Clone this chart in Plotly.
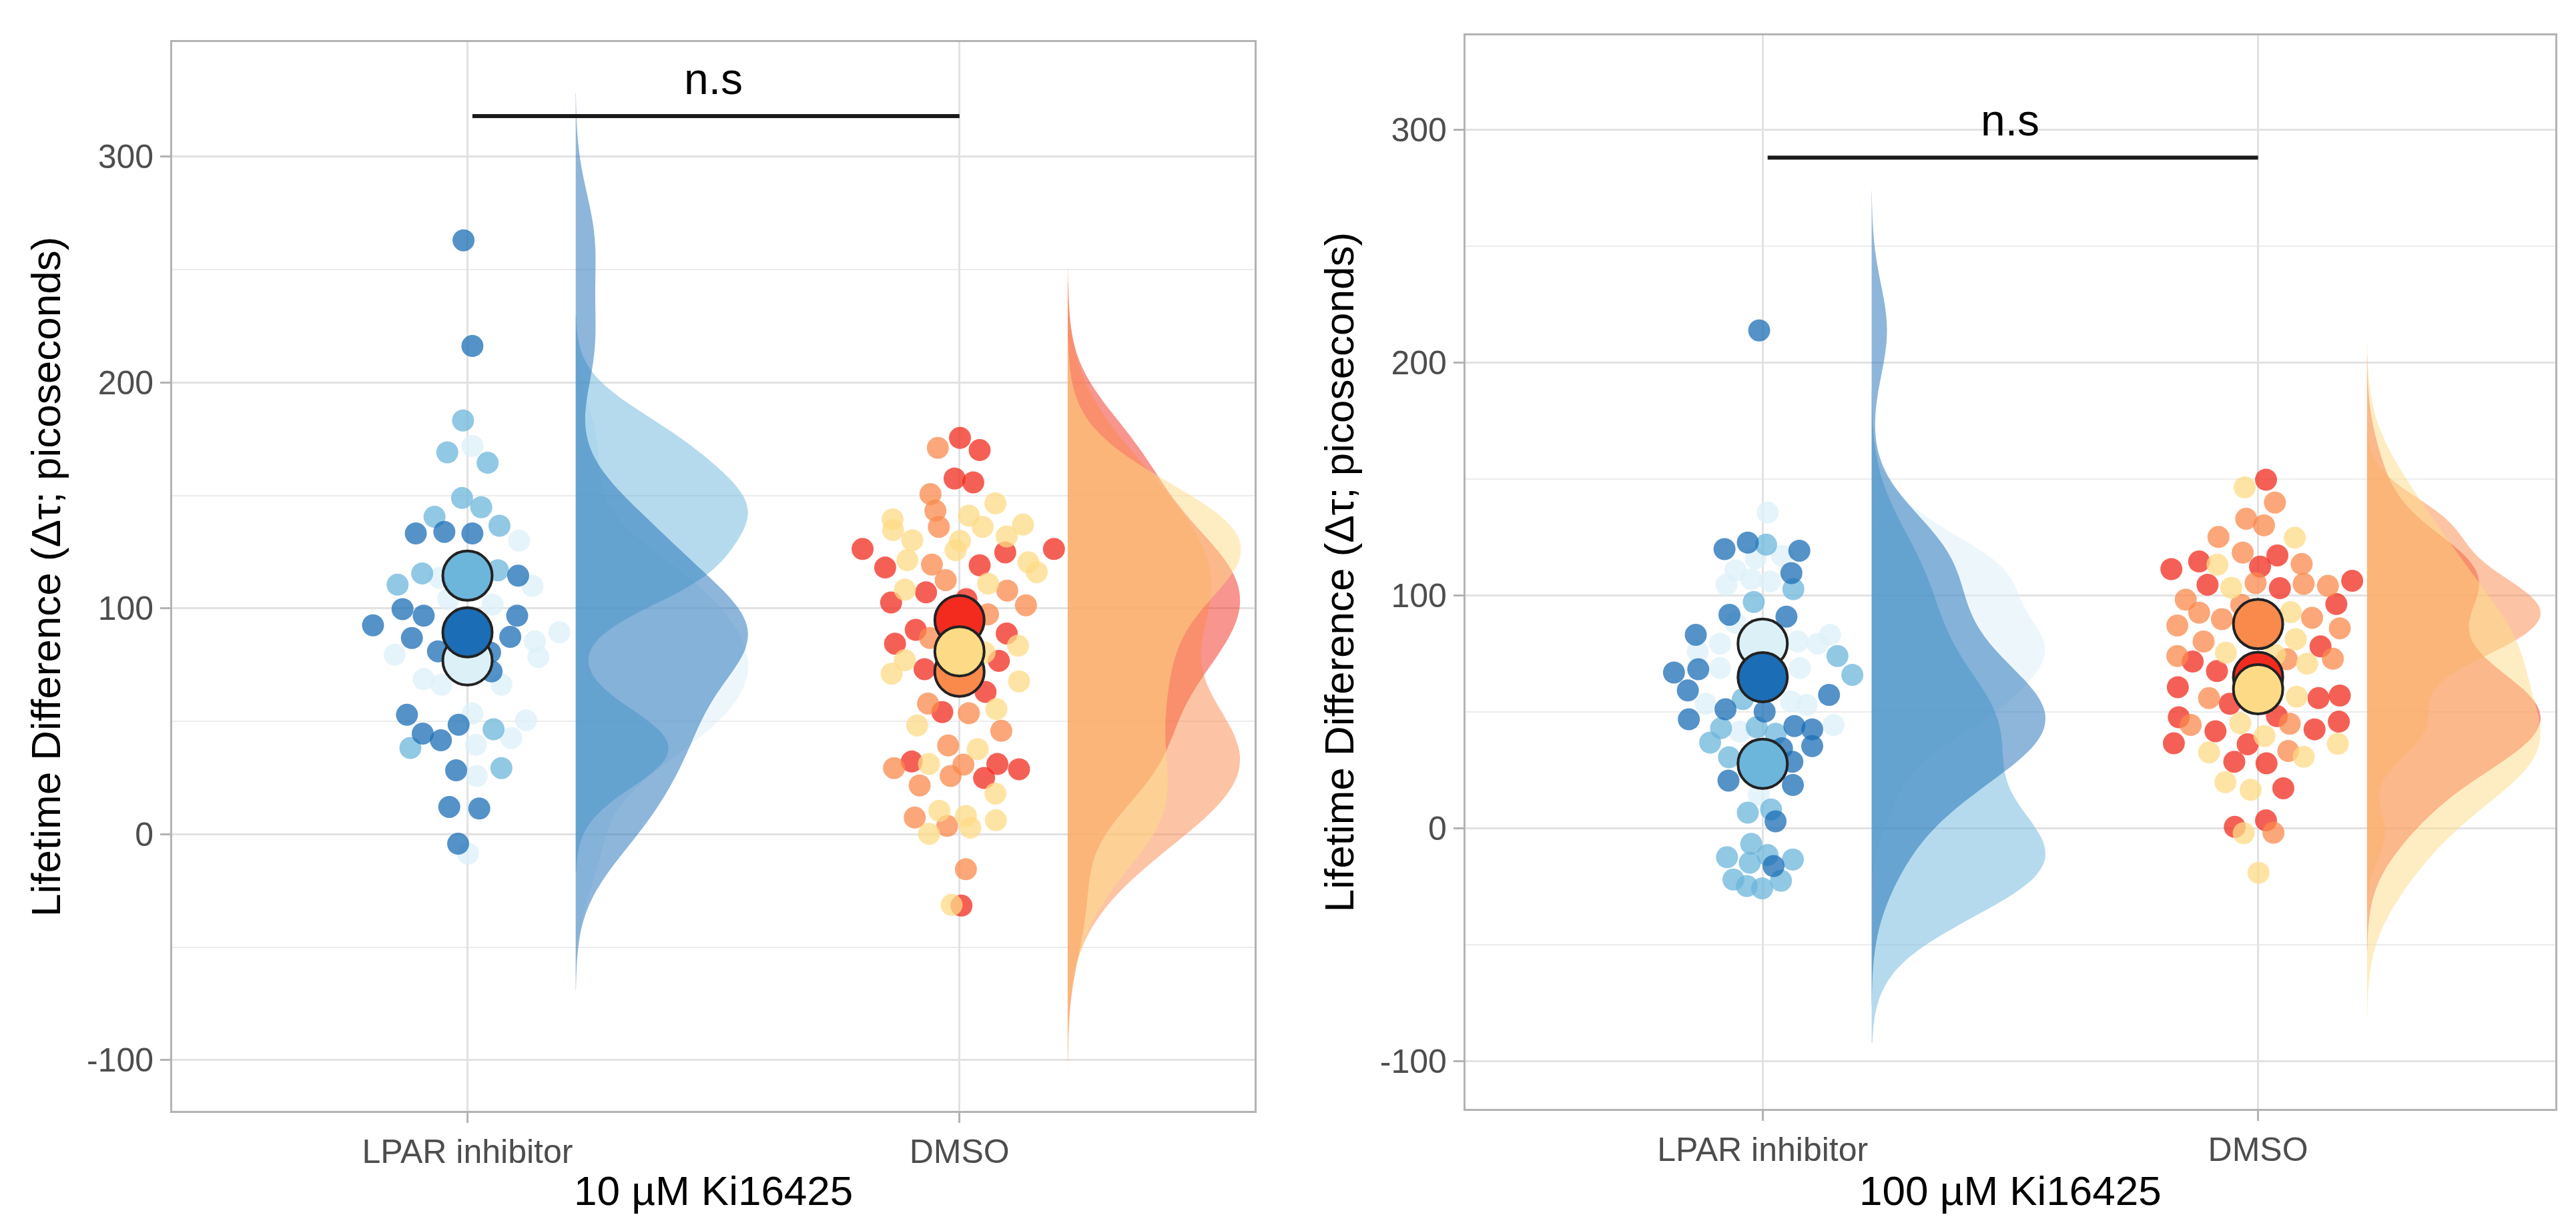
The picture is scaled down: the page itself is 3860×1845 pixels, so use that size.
import numpy as np
import plotly.graph_objects as go

# ---------------------------------------------------------------------------
# Values (per-cell lifetime differences, ps).
# Each condition has three biological replicates; "_dx" is the horizontal
# jitter of each cell point, as drawn in the original swarm.
# ---------------------------------------------------------------------------
conditions = ["LPAR inhibitor", "DMSO"]
panel_titles = ["10 µM Ki16425", "100 µM Ki16425"]
y_title = "Lifetime Difference (Δτ; picoseconds)"
y_ticks = [-100, 0, 100, 200, 300]
y_minor = [-50, 50, 150, 250]
sig_labels = ["n.s", "n.s"]
sig_heights = [318, 288]

# 10 µM, LPAR inhibitor
lpar10_r1_y = [263.0, 216.2, 133.2, 133.9, 133.2, 114.5, 99.7, 96.8, 92.5, 96.8, 86.9, 87.4,
               81.0, 80.5, 72.1, 52.9, 48.5, 44.6, 41.6, 28.3, 12.1, 11.4, -4.2]
lpar10_r1_dx = [-0.008, 0.010, -0.105, -0.047, 0.010, 0.103, -0.132, -0.089, -0.192, 0.101, -0.113, 0.087,
                -0.060, 0.046, 0.049, -0.123, -0.018, -0.091, -0.054, -0.023, -0.037, 0.024, -0.019]
lpar10_r2_y = [183.2, 169.1, 164.5, 148.9, 144.8, 140.6, 136.6, 115.5, 110.5, 116.9, 46.5, 38.2, 29.3]
lpar10_r2_dx = [-0.009, -0.041, 0.041, -0.011, 0.028, -0.067, 0.065, -0.092, -0.142, 0.062, 0.053, -0.116, 0.069]
lpar10_r3_y = [171.9, 130.0, 113.5, 110.0, 104.1, 101.7, 89.4, 85.4, 79.5, 78.5, 68.7, 66.2, 66.2,
               53.4, 50.5, 42.6, 39.6, 25.8, -8.6]
lpar10_r3_dx = [0.010, 0.105, -0.057, 0.132, -0.039, 0.051, 0.187, 0.137, -0.148, 0.144, -0.089, -0.053, 0.069,
                0.010, 0.119, 0.089, 0.017, 0.019, 0.001]
lpar10_means = [89.4, 114.5, 77.0]

# 10 µM, DMSO
dmso10_r1_y = [175.5, 170.1, 157.5, 155.8, 126.3, 126.3, 124.8, 118.1, 119.1, 107.1, 102.6, 104.1,
               90.5, 88.9, 84.4, 76.8, 73.1, 63.0, 54.1, 32.2, 31.1, 28.8, 24.9, -31.6]
dmso10_r1_dx = [0.001, 0.041, -0.010, 0.028, -0.197, 0.192, 0.093, -0.151, 0.041, -0.068, -0.139, 0.014,
                -0.089, 0.096, -0.131, 0.080, -0.071, 0.053, -0.035, -0.097, 0.077, 0.121, 0.050, 0.004]
dmso10_r2_y = [171.1, 150.6, 143.3, 136.1, 119.4, 112.5, 107.9, 101.4, 97.4, 86.9, 57.9, 53.6,
               45.8, 39.3, 29.3, 30.8, 25.8, 21.6, 7.4, 3.7, -15.5]
dmso10_r2_dx = [-0.044, -0.059, -0.049, -0.042, -0.056, -0.028, 0.097, 0.135, 0.058, -0.060, -0.064, 0.019,
                0.085, -0.023, -0.133, 0.008, -0.018, -0.081, -0.091, -0.025, 0.013]
dmso10_r3_y = [146.5, 141.1, 139.4, 136.1, 137.1, 134.7, 130.2, 129.9, 131.9, 125.8, 121.4, 120.4,
               116.1, 111.0, 108.3, 83.5, 77.1, 80.5, 71.1, 67.7, 55.4, 48.2, 37.7, 31.1,
               18.0, 10.4, 8.1, 6.2, 0.2, 2.9, -31.3]
dmso10_r3_dx = [0.073, 0.019, -0.136, 0.047, 0.129, -0.135, -0.096, 0.001, 0.096, -0.008, -0.106, 0.140,
                0.157, 0.058, -0.111, 0.119, -0.111, 0.051, -0.138, 0.121, 0.075, -0.086, 0.037, -0.062,
                0.073, -0.041, 0.013, 0.074, -0.062, 0.022, -0.016]
dmso10_means = [94.8, 72.0, 81.0]

# 100 µM, LPAR inhibitor
lpar100_r1_y = [213.8, 119.9, 122.7, 119.2, 109.6, 91.7, 90.9, 83.1, 68.3, 66.9, 59.2, 57.3,
                46.8, 51.1, 50.1, 43.9, 42.5, 35.3, 34.4, 28.6, 20.5, 18.6, 3.0, -16.2]
lpar100_r1_dx = [-0.007, -0.077, -0.030, 0.074, 0.058, -0.067, 0.048, -0.135, -0.130, -0.179, -0.151, 0.134,
                 -0.149, -0.075, 0.004, 0.064, 0.100, 0.100, 0.039, 0.060, -0.069, 0.061, 0.026, 0.022]
lpar100_r2_y = [121.8, 102.7, 97.2, 74.0, 65.9, 55.5, 43.0, 43.4, 40.6, 36.8, 30.5, 6.7, 8.1,
                -6.7, -12.4, -11.5, -13.4, -14.8, -22.0, -22.5, -24.8, -25.8]
lpar100_r2_dx = [0.007, 0.062, -0.018, 0.151, 0.181, -0.040, -0.084, -0.012, 0.026, -0.106, -0.068, -0.030, 0.017,
                 -0.023, -0.072, 0.010, 0.061, -0.026, -0.059, 0.037, -0.032, -0.001]
lpar100_r3_y = [135.6, 117.0, 116.0, 110.8, 107.0, 106.0, 104.6, 88.3, 79.3, 75.9, 80.2, 83.1, 79.3,
                68.8, 68.8, 53.5, 54.4, 53.0, 41.5, 44.4, 14.3]
lpar100_r3_dx = [0.010, 0.039, -0.014, -0.055, -0.023, 0.015, -0.073, -0.055, -0.086, -0.131, 0.071, 0.136, 0.111,
                 0.075, -0.086, -0.115, 0.057, 0.089, -0.046, 0.143, -0.008]
lpar100_means = [64.9, 27.7, 79.3]

# 100 µM, DMSO
dmso100_r1_y = [149.7, 117.2, 114.6, 112.4, 111.3, 104.6, 103.1, 106.3, 96.3, 78.1, 71.6, 67.5,
                60.6, 53.5, 55.9, 57.0, 47.7, 48.2, 41.7, 42.5, 45.8, 36.5, 36.1, 28.6, 27.9, 17.2, 0.6, 3.4]
dmso100_r1_dx = [0.016, 0.039, -0.119, 0.004, -0.175, -0.102, 0.044, 0.190, 0.158, 0.126, -0.132, -0.083,
                 -0.162, -0.057, 0.122, 0.165, -0.160, 0.038, -0.086, 0.114, 0.163, -0.170, -0.021, -0.048,
                 0.017, 0.051, -0.047, 0.016]
dmso100_r2_y = [139.9, 132.9, 130.1, 125.1, 118.4, 113.5, 105.3, 105.0, 104.1, 98.2, 96.0, 92.6,
                89.8, 90.4, 87.1, 85.9, 80.2, 74.0, 72.8, 72.6, 55.9, 44.4, 44.9, 33.2, -1.9]
dmso100_r2_dx = [0.034, -0.024, 0.012, -0.080, -0.031, 0.088, -0.005, 0.092, 0.141, -0.146, -0.034, -0.119,
                 -0.073, 0.109, -0.163, 0.165, -0.110, -0.163, 0.151, 0.058, -0.099, -0.136, 0.064, 0.061, 0.031]
dmso100_r3_y = [146.4, 124.8, 113.2, 103.3, 92.8, 81.2, 75.4, 70.7, 74.5, 56.5, 45.1, 39.6,
                32.6, 30.7, 36.3, 19.8, 16.5, -2.1, -19.1]
dmso100_r3_dx = [-0.027, 0.074, -0.082, -0.054, 0.066, 0.076, -0.065, 0.099, 0.034, 0.078, -0.036, 0.013,
                 -0.099, 0.092, 0.161, -0.066, -0.015, -0.029, 0.001]
dmso100_means = [65.0, 87.7, 59.7]

# replicate colours (rep1, rep2, rep3)
blues = ["#1b6db5", "#6cb5db", "#dcf0f8"]
oranges = ["#f22b1e", "#f98a4c", "#fddb86"]


def rgba(hex_color, alpha):
    h = hex_color.lstrip("#")
    r, g, b = (int(h[i:i + 2], 16) for i in (0, 2, 4))
    return f"rgba({r},{g},{b},{alpha})"


def nrd0(vals):
    # R's default bandwidth (bw.nrd0), as used by ggplot's violins
    v = np.asarray(vals, dtype=float)
    sd = v.std(ddof=1)
    iqr = np.subtract(*np.percentile(v, [75, 25]))
    return 0.9 * min(sd, iqr / 1.34) * len(v) ** -0.2


# (x position, colours, replicates, means, drawing order of replicates)
panels = [
    {
        "xaxis": "x", "yaxis": "y",
        "groups": [
            (1, blues, [(lpar10_r1_y, lpar10_r1_dx), (lpar10_r2_y, lpar10_r2_dx), (lpar10_r3_y, lpar10_r3_dx)],
             lpar10_means, [2, 1, 0]),
            (2, oranges, [(dmso10_r1_y, dmso10_r1_dx), (dmso10_r2_y, dmso10_r2_dx), (dmso10_r3_y, dmso10_r3_dx)],
             dmso10_means, [0, 1, 2]),
        ],
    },
    {
        "xaxis": "x2", "yaxis": "y2",
        "groups": [
            (1, blues, [(lpar100_r1_y, lpar100_r1_dx), (lpar100_r2_y, lpar100_r2_dx), (lpar100_r3_y, lpar100_r3_dx)],
             lpar100_means, [2, 1, 0]),
            (2, oranges, [(dmso100_r1_y, dmso100_r1_dx), (dmso100_r2_y, dmso100_r2_dx), (dmso100_r3_y, dmso100_r3_dx)],
             dmso100_means, [0, 1, 2]),
        ],
    },
]

fig = go.Figure()

# half violins, one per replicate, to the right of each swarm
for p in panels:
    for pos, cols, reps, _, order in p["groups"]:
        for i in order:
            vals = reps[i][0]
            bw = nrd0(vals)
            fig.add_trace(go.Violin(
                y=vals, x0=pos + 0.22, side="positive", width=0.7,
                scalemode="width", bandwidth=bw, spanmode="manual",
                span=[min(vals) - 3 * bw, max(vals) + 3 * bw],
                fillcolor=rgba(cols[i], 0.5), line=dict(width=0, color="rgba(0,0,0,0)"),
                points=False, hoverinfo="skip",
                xaxis=p["xaxis"], yaxis=p["yaxis"],
            ))

# individual cells
for p in panels:
    for pos, cols, reps, _, order in p["groups"]:
        for i in order:
            vals, dx = reps[i]
            fig.add_trace(go.Scatter(
                x=[pos + d for d in dx], y=vals, mode="markers",
                marker=dict(size=33, color=rgba(cols[i], 0.75), line=dict(width=0)),
                hoverinfo="y", xaxis=p["xaxis"], yaxis=p["yaxis"],
            ))

# replicate means
for p in panels:
    for pos, cols, _, means, order in p["groups"]:
        for i in order:
            fig.add_trace(go.Scatter(
                x=[pos], y=[means[i]], mode="markers",
                marker=dict(size=74, color=cols[i], line=dict(width=4, color="#222222")),
                hoverinfo="y", xaxis=p["xaxis"], yaxis=p["yaxis"],
            ))

# significance bars
for p, h in zip(panels, sig_heights):
    fig.add_trace(go.Scatter(
        x=[1.01, 2.0], y=[h, h], mode="lines",
        line=dict(color="#1a1a1a", width=6), hoverinfo="skip",
        xaxis=p["xaxis"], yaxis=p["yaxis"],
    ))

axis_x = dict(
    type="linear", range=[0.4, 2.6], tickmode="array", tickvals=[1, 2], ticktext=conditions,
    showgrid=True, gridcolor="#e2e2e2", gridwidth=3, zeroline=False,
    showline=True, mirror=True, linecolor="#b3b3b3", linewidth=3,
    ticks="outside", ticklen=15, tickwidth=3, tickcolor="#b3b3b3",
    tickfont=dict(size=50, color="#4d4d4d"),
)
axis_y = dict(
    tickmode="array", tickvals=y_ticks, ticktext=[str(t) for t in y_ticks],
    showgrid=True, gridcolor="#e2e2e2", gridwidth=3, zeroline=False,
    showline=True, mirror=True, linecolor="#b3b3b3", linewidth=3,
    ticks="outside", ticklen=15, tickwidth=3, tickcolor="#b3b3b3",
    tickfont=dict(size=50, color="#4d4d4d"),
    minor=dict(tickmode="array", tickvals=y_minor, showgrid=True,
               gridcolor="#ececec", gridwidth=2, ticks=""),
)

annotations = []
for i, (xd, yd) in enumerate([((0.0648, 0.4850), (0.1019, 0.9702)),
                              ((0.5668, 0.9899), (0.1035, 0.9756))]):
    annotations.append(dict(
        text=panel_titles[i], xref="paper", yref="paper", x=(xd[0] + xd[1]) / 2, y=0.0369,
        xanchor="center", yanchor="middle", showarrow=False, font=dict(size=62, color="black"),
    ))
    annotations.append(dict(
        text=y_title, xref="paper", yref="paper", x=xd[0] - 0.049, y=(yd[0] + yd[1]) / 2,
        xanchor="center", yanchor="middle", textangle=-90, showarrow=False,
        font=dict(size=62, color="black"),
    ))
    sfx = "" if i == 0 else "2"
    annotations.append(dict(
        text=sig_labels[i], xref="x" + sfx, yref="y" + sfx, x=1.5, y=sig_heights[i] + 5,
        xanchor="center", yanchor="bottom", showarrow=False, font=dict(size=66, color="black"),
    ))

fig.update_layout(
    width=3860, height=1845,
    margin=dict(l=0, r=0, t=0, b=0),
    paper_bgcolor="white", plot_bgcolor="white",
    showlegend=False, violinmode="overlay",
    font=dict(family="Liberation Sans"),
    xaxis=dict(axis_x, domain=[0.0648, 0.4850], anchor="y"),
    yaxis=dict(axis_y, domain=[0.1019, 0.9702], range=[-122.5, 350.8], anchor="x"),
    xaxis2=dict(axis_x, domain=[0.5668, 0.9899], anchor="y2"),
    yaxis2=dict(axis_y, domain=[0.1035, 0.9756], range=[-120.5, 340.5], anchor="x2"),
    annotations=annotations,
)

fig.write_html("out.html")
